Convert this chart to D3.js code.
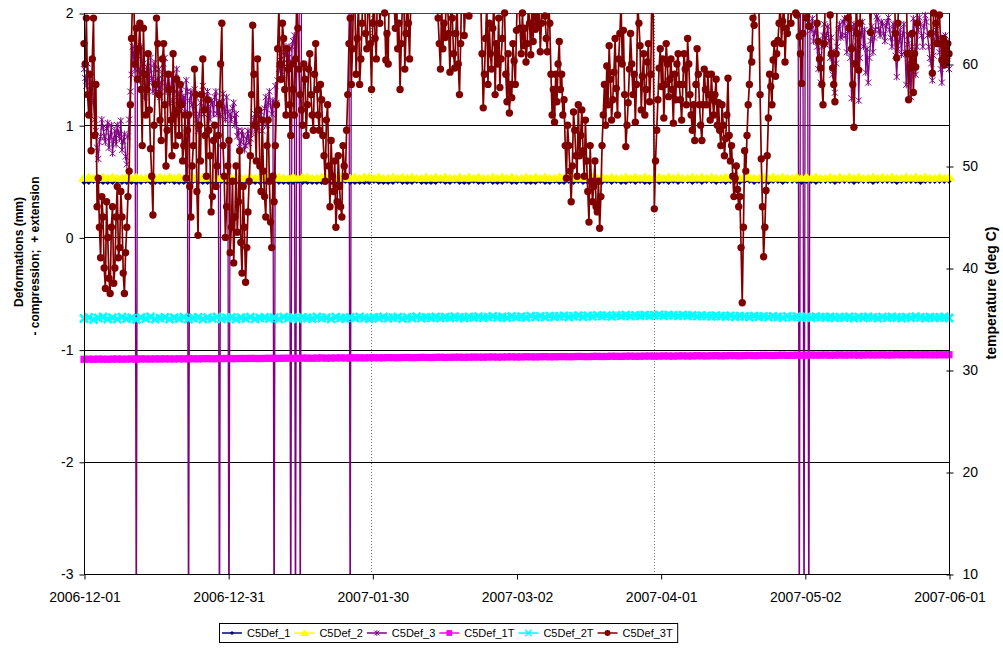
<!DOCTYPE html>
<html><head><meta charset="utf-8">
<script src="https://cdn.jsdelivr.net/npm/d3@7"></script>
<style>
body{margin:0;background:#fff}
svg{display:block}
text{font-family:Arial,"Liberation Sans",sans-serif;fill:#000}
</style>
</head><body>
<svg id="chart" width="1003" height="648"></svg>
<script>
// ---------------- DATA ----------------
const startDate = "2006-12-01";
const endDate = "2007-06-01";
const xTickLabels = ["2006-12-01","2006-12-31","2007-01-30","2007-03-02","2007-04-01","2007-05-02","2007-06-01"];
const leftTicks = [-3,-2,-1,0,1,2];
const rightTicks = [10,20,30,40,50,60];
const seriesNames = ["C5Def_1","C5Def_2","C5Def_3","C5Def_1T","C5Def_2T","C5Def_3T"];
const refLineDays = [60.4, 120]; // dotted vertical lines (days after start)

// daily readings (mm), starting 2006-12-01
const c5def1 = [
0.49,0.49,0.50,0.49,0.49,0.49,0.49,0.50,0.49,0.49,0.49,0.49,0.49,0.50,0.49,0.49,0.49,0.49,0.50,0.49,
0.49,0.49,0.49,0.50,0.49,0.49,0.49,0.49,0.49,0.50,0.49,0.49,0.49,0.49,0.50,0.49,0.49,0.49,0.49,0.49,
0.50,0.49,0.49,0.49,0.49,0.50,0.49,0.49,0.49,0.49,0.49,0.50,0.49,0.49,0.49,0.50,0.49,0.49,0.49,0.49,
0.49,0.50,0.49,0.49,0.49,0.49,0.50,0.49,0.49,0.49,0.50,0.49,0.49,0.49,0.49,0.50,0.49,0.49,0.50,0.49,
0.49,0.49,0.50,0.49,0.49,0.50,0.49,0.49,0.49,0.50,0.49,0.49,0.50,0.49,0.49,0.49,0.50,0.49,0.49,0.50,
0.49,0.49,0.50,0.49,0.50,0.49,0.49,0.50,0.49,0.49,0.50,0.49,0.50,0.49,0.49,0.50,0.49,0.50,0.49,0.49,
0.50,0.49,0.50,0.49,0.50,0.49,0.50,0.50,0.49,0.50,0.49,0.50,0.50,0.49,0.50,0.49,0.50,0.50,0.49,0.50,
0.50,0.49,0.50,0.50,0.49,0.50,0.50,0.49,0.50,0.50,0.50,0.49,0.50,0.50,0.49,0.50,0.50,0.50,0.49,0.50,
0.50,0.50,0.49,0.50,0.50,0.50,0.49,0.50,0.50,0.50,0.50,0.49,0.50,0.50,0.50,0.50,0.49,0.50,0.50,0.50,
0.50,0.50,0.50];
const c5def2 = [
0.53,0.54,0.53,0.53,0.54,0.53,0.54,0.53,0.53,0.54,0.53,0.54,0.53,0.53,0.54,0.53,0.54,0.53,0.54,0.53,
0.54,0.53,0.53,0.54,0.53,0.54,0.53,0.54,0.53,0.53,0.54,0.53,0.54,0.53,0.53,0.54,0.53,0.54,0.53,0.54,
0.53,0.54,0.53,0.53,0.54,0.53,0.54,0.54,0.53,0.53,0.54,0.53,0.54,0.53,0.54,0.53,0.53,0.54,0.53,0.54,
0.54,0.53,0.54,0.53,0.53,0.54,0.53,0.54,0.53,0.54,0.53,0.53,0.54,0.53,0.54,0.53,0.54,0.53,0.53,0.54,
0.53,0.54,0.53,0.54,0.53,0.53,0.54,0.53,0.54,0.53,0.54,0.53,0.53,0.54,0.53,0.54,0.53,0.54,0.53,0.53,
0.54,0.53,0.54,0.53,0.54,0.53,0.53,0.54,0.53,0.54,0.53,0.54,0.53,0.53,0.54,0.53,0.54,0.53,0.54,0.53,
0.53,0.54,0.53,0.54,0.53,0.54,0.53,0.53,0.54,0.53,0.54,0.53,0.54,0.53,0.53,0.54,0.53,0.54,0.53,0.54,
0.54,0.53,0.53,0.54,0.53,0.54,0.53,0.54,0.53,0.53,0.54,0.53,0.54,0.53,0.54,0.53,0.53,0.54,0.53,0.54,
0.53,0.54,0.53,0.54,0.53,0.53,0.54,0.53,0.54,0.53,0.54,0.53,0.53,0.54,0.53,0.54,0.53,0.54,0.53,0.53,
0.54,0.53,0.54];
// quarter-day readings (mm) in three stretches; values of 2.3 are above the scale, -4 are drop-outs below it
const c5def3A = [ // from day 0
1.5,1.42,1.35,1.55,1.45,1.25,1.3,1.38,1.2,1.05,0.95,0.8,0.7,0.85,0.9,1.05,0.98,0.9,0.85,0.97,1.02,0.8,0.9,1.0,0.75,0.87,0.95,0.83,1.0,0.93,0.88,1.04,0.78,0.86,0.92,0.72,0.65,0.9,1.05,1.3,
1.45,1.7,1.6,1.5,-4,1.62,1.5,1.4,1.7,1.48,1.55,1.25,1.35,1.52,1.45,1.38,1.6,1.42,1.3,1.55,1.5,1.3,1.4,1.5,1.25,1.38,1.45,1.55,1.6,1.3,1.35,1.45,1.2,1.32,1.45,1.22,1.3,1.42,1.5,1.28,
1.15,1.28,1.35,1.2,1.25,1.12,1.4,1.3,-4,1.22,1.3,1.18,1.1,1.32,1.25,1.05,0.95,1.1,1.2,1.28,1.35,1.1,1.15,1.25,1.3,1.15,1.05,1.22,1.2,1.1,1.25,1.3,1.1,1.2,-4,1.08,1.2,1.28,1.15,1.05,
1.25,1.12,-4,1.1,1.05,1.15,1.2,1.0,1.1,0.9,0.95,0.8,0.85,0.95,0.9,0.78,0.82,0.88,0.95,0.84,0.88,0.93,1.0,1.05,1.1,0.95,0.98,1.08,1.05,1.12,0.95,1.02,1.15,1.25,1.0,1.2,1.3,1.18,1.1,1.22,
-4,1.35,1.2,1.4,1.5,1.58,1.65,1.45,1.55,1.62,1.7,1.52,1.6,1.68,-4,1.7,1.75,1.8,-4,2.1,2.2,2.3,-4,2.2,2.3];
const c5def3B = [ // from day 55.5
2.3,2.3,-4,2.3,2.3];
const c5def3C = [ // from day 150
2.3,2.3,-4,2.3,2.3,2.3,-4,2.3,2.3,2.3,-4,1.9,1.85,1.95,1.75,1.82,1.9,1.7,1.5,1.62,1.38,1.7,1.8,1.9,1.72,1.8,1.88,1.75,1.6,1.78,1.45,1.65,1.29,1.55,1.7,1.85,1.9,1.78,1.8,1.92,
1.95,1.8,1.65,1.9,1.85,1.6,1.24,1.7,1.9,1.82,1.55,1.75,1.22,1.6,1.8,1.92,1.7,1.85,1.47,1.68,1.38,1.6,1.75,1.88,1.65,1.78,1.85,1.97,1.95,1.85,1.8,1.92,1.9,1.82,1.75,1.88,1.92,1.96,1.85,1.78,
1.7,1.9,1.85,1.62,1.43,1.68,1.75,1.85,1.63,1.8,1.9,1.65,1.36,1.72,1.8,1.55,1.25,1.7,1.95,1.82,1.45,1.7,1.85,1.96,1.9,1.8,1.7,1.88,1.98,1.92,1.8,1.7,1.6,1.55,1.4,1.62,1.75,1.85,1.9,1.78,
1.65,1.5,1.38,1.6,1.55,1.8,1.75,1.62,1.5];
// daily temperatures (deg C)
const c5def1T = [
31.05,31.06,31.05,31.07,31.06,31.05,31.07,31.08,31.06,31.07,31.08,31.07,31.09,31.08,31.07,31.09,31.08,31.10,31.09,31.08,
31.10,31.09,31.11,31.10,31.09,31.11,31.12,31.10,31.11,31.12,31.13,31.11,31.12,31.13,31.12,31.14,31.13,31.12,31.14,31.15,
31.13,31.14,31.15,31.16,31.14,31.15,31.17,31.16,31.15,31.17,31.18,31.16,31.17,31.18,31.19,31.17,31.18,31.20,31.19,31.18,
31.20,31.21,31.19,31.20,31.22,31.21,31.20,31.22,31.23,31.21,31.22,31.24,31.23,31.22,31.24,31.25,31.23,31.24,31.25,31.26,
31.24,31.25,31.27,31.26,31.25,31.27,31.28,31.26,31.27,31.28,31.29,31.27,31.28,31.30,31.29,31.28,31.30,31.31,31.29,31.30,
31.31,31.32,31.30,31.31,31.33,31.32,31.31,31.33,31.34,31.32,31.33,31.35,31.34,31.33,31.35,31.36,31.34,31.35,31.36,31.37,
31.35,31.36,31.38,31.37,31.36,31.38,31.39,31.37,31.38,31.40,31.39,31.38,31.40,31.41,31.39,31.40,31.42,31.41,31.40,31.42,
31.43,31.41,31.42,31.44,31.43,31.42,31.44,31.45,31.43,31.44,31.46,31.44,31.45,31.47,31.45,31.46,31.47,31.45,31.46,31.48,
31.46,31.47,31.48,31.46,31.47,31.49,31.47,31.48,31.49,31.47,31.48,31.50,31.48,31.49,31.50,31.48,31.49,31.50,31.49,31.48,
31.50,31.49,31.50];
const c5def2T = [
35.05,35.15,34.95,35.10,35.20,35.00,35.12,34.98,35.18,35.05,35.10,34.95,35.15,35.05,35.20,35.00,35.08,35.15,34.98,35.12,
35.05,35.18,35.00,35.10,35.15,34.98,35.12,35.05,35.20,35.02,35.10,35.15,35.00,35.12,35.05,35.18,35.02,35.10,35.15,35.05,
35.12,35.00,35.18,35.08,35.12,35.02,35.15,35.10,35.05,35.20,35.08,35.12,35.02,35.18,35.10,35.05,35.15,35.08,35.20,35.10,
35.05,35.15,35.10,35.20,35.08,35.12,35.18,35.05,35.15,35.10,35.22,35.08,35.15,35.12,35.20,35.10,35.18,35.12,35.22,35.15,
35.10,35.20,35.15,35.22,35.12,35.18,35.25,35.15,35.20,35.12,35.25,35.18,35.22,35.15,35.28,35.20,35.25,35.18,35.28,35.22,
35.25,35.30,35.20,35.28,35.32,35.22,35.30,35.25,35.35,35.28,35.32,35.25,35.35,35.30,35.38,35.28,35.35,35.32,35.38,35.30,
35.35,35.40,35.32,35.38,35.35,35.30,35.38,35.32,35.35,35.28,35.33,35.30,35.25,35.32,35.28,35.25,35.30,35.22,35.28,35.25,
35.20,35.28,35.22,35.25,35.18,35.25,35.20,35.15,35.25,35.18,35.22,35.15,35.20,35.12,35.22,35.18,35.15,35.20,35.12,35.18,
35.15,35.20,35.10,35.18,35.12,35.20,35.15,35.08,35.18,35.12,35.20,35.15,35.10,35.18,35.12,35.22,35.15,35.10,35.18,35.12,
35.15,35.20,35.10];
// quarter-day temperatures (deg C) from day 0; values above 65 are off the top of the scale
const c5def3T = [
62,60,64.5,57,55,59,51.5,60.5,64.5,53,58,46,48.8,44,41,47,45,40,38,46.5,43,39,37.5,44,46,38.5,40,45,48,41,42,47.5,45,39.5,37.5,41.5,44,47,49.5,56,
62.5,67,66,60,63.5,58.5,61.5,64,57.5,52,63.5,59,55,57.5,61,55.5,51.7,49,45.2,54,58,64.5,62,57,54.5,52.5,60.5,62,56,50,53.5,59,57.5,54.5,51,61,55,52,58.5,55.5,
53,58,56,50.5,52,55,48.8,53.5,55,48,45,50,52,59.5,57,47.5,43.2,54,50.5,57,60.5,55.5,53,49,56.5,53.5,51,45.5,47,52.5,54,48,50,53,56,60,64,52,49,43,
46,50,52.5,41.5,44,48.5,40.5,45,50,43.5,46.5,51.5,42.5,39.5,48,44,38.6,42,45.5,48.5,51,57,63.8,59,54,50.5,60.5,55.5,50,47.5,54.5,49.5,47,45,52,54.5,48.5,44.5,42,49,
46.5,52,56,61.5,65.5,60,58.5,64,62.5,57.5,55,61.5,59.5,56,53,60,57.5,55,60.5,65.8,63.5,59.5,57,55.5,54,60,58.5,53,56,59.5,61,57,55,53.5,59,62,57.5,55,53.5,58,
56.5,53,51,48.5,54.5,56,50,46,52.5,49,47.5,50.5,44,46.5,51,48,46,45,52,50,49,53.5,57,62,64.5,58,61.5,68,66,59,62.5,66,58,60.5,64,69,67,63,61.5,66,
66,62,57.5,64,67,62.5,60.5,68,68,64,66,70,68,65,60.4,63,60,69,67,71,68,66,63.5,67,61.5,64,57.5,62,66,69,59.5,63,67,64,60.5,66,68,71,70,68,
70,71,68,70,72,68,69,72,71,69,67,71,70,68,68,70,71,66,64.5,62,59.5,66,61.5,64,62.6,68,66,63,59.2,67,64.5,61,59.6,63,66,60,57,62,68,70,
62.8,65.5,67,69,64.7,67,68,70,66,68,69,71,67,69,66,61,55.7,59,62.5,66,58,64,61,59.5,63.5,66,57,62,60,64.5,57.7,60.5,62.5,67,65,59,56.3,61,55.2,58,
56.7,62,60.3,58,63.3,68,66,63.5,61,65,61.8,63.5,60.2,62,66,64,60.9,66,62.2,68,63.4,66,63.9,67,61.2,64,67,69,64.7,62.5,61.2,66,64,59,55,57.5,54.3,59,56.3,60,
62.2,57.5,59,55,56.5,52,48.8,54,52,49.5,46.5,50,55.3,53.5,51,49,56,51,53,55.5,51.5,49,54.5,50.5,47.5,44.5,52,48.5,46.5,48,50.5,46,45.5,48.5,43.9,47,52,55,58,54,
59.8,56,61.8,58.5,54.5,56.5,59.2,62.5,57.6,55,60.5,63,66,60,63.3,57,51.9,54,56.2,59.5,63,60,57,59,54.3,58,66,64,61.8,55.5,58.8,61,55,57.5,60.2,62,56.3,59,68,66,
45.8,50.5,53.5,56.5,59.6,61.5,57.8,60.5,54.7,58,62,60,56.8,58.5,60.5,57.5,54.2,59,56.5,60,61,58,56.5,54.5,58,61,59.5,56,62.5,60,57,55,53.5,56,52.5,58,61.5,59,56,54,
52.5,56,59.5,57.5,56,59,57,54.5,59,56.5,55,57,58.5,54,56.2,53.5,52,56,54,51,52.7,55,58.6,53,50.5,52,49,47,48.8,50,47.7,46,47,42,36.6,44,51.5,49.5,53,56,
58,61.5,60.2,64.5,63.8,66,65.5,67,66,57,50.7,46,41.1,44,47.6,51,54.7,59,57.8,56,60.4,62,58.8,61,62.3,64,66,62,64.2,66,60.2,63.5,63,66,67,64,68,66,67,65,
64.8,66,62.7,61,58.1,63,67,66,64.5,67,63.7,66,68,70,69,68,67,64,62.2,60.5,59.6,58,56,62,67,70,69,66,64.8,61,59.6,58,56.3,61,67,69,70,71,68,69,
70,68,67,64.5,63.5,66,61.5,58,53.8,60,66,63,59.4,64,67,69,68,70,67,68,69,66,63.1,67,68,69,70,72,71,69,70,71,72,70,69,71,71,68,70,69,
68,70,67,63,60.6,64,67,70,69,71,70,69,68,61,56.5,61,59.6,63,57.2,61,59.7,64,68,70,70,68,69,70,71,69,69,70,68,63,59.1,65,67,64,62,66,
64.8,62,60.4,62.5,59.9,61.5,60.3,62,61];

// ---------------- CHART ----------------
const W = 1003, H = 648;
const P = {left:84, right:949, top:13, bottom:574};
const DAY = 864e5;
const t0 = new Date(startDate + "T00:00:00Z"), t1 = new Date(endDate + "T00:00:00Z");
const dayToDate = d => new Date(t0.getTime() + d * DAY);

const x = d3.scaleUtc().domain([t0, t1]).range([P.left, P.right]);
const yL = d3.scaleLinear().domain([-3, 2]).range([P.bottom, P.top]);
const yR = d3.scaleLinear().domain([10, 65]).range([P.bottom, P.top]);

const svg = d3.select("#chart");
svg.append("rect").attr("width", W).attr("height", H).attr("fill", "#fff");
svg.append("defs").append("clipPath").attr("id", "plotClip")
  .append("rect").attr("x", P.left).attr("y", P.top)
  .attr("width", P.right - P.left).attr("height", P.bottom - P.top);

const crisp = v => Math.round(v) + 0.5;
const FONT = "Arial, 'Liberation Sans', sans-serif";

// horizontal gridlines
svg.append("g").selectAll("line").data(leftTicks.filter(d => d > -3)).join("line")
  .attr("x1", P.left).attr("x2", P.right)
  .attr("y1", d => crisp(yL(d))).attr("y2", d => crisp(yL(d)))
  .attr("stroke", d => d === 2 ? "#444" : "#000").attr("stroke-width", 1);

// dotted vertical reference lines
svg.append("g").selectAll("line").data(refLineDays).join("line")
  .attr("x1", d => crisp(x(dayToDate(d)))).attr("x2", d => crisp(x(dayToDate(d))))
  .attr("y1", P.top).attr("y2", P.bottom)
  .attr("stroke", "#777").attr("stroke-width", 1).attr("stroke-dasharray", "1,2");

// marker shapes: plot version (k=1) and smaller legend version
const markerDefs = {
  diamond: (g, k) => g.append("path").attr("d", `M0,${-2.6*k}L${2.6*k},0L0,${2.6*k}L${-2.6*k},0Z`).attr("fill", "#000080"),
  triangle: (g, k) => g.append("path").attr("d", `M0,${-3.8*k}L${5.5*k},${3.4*k}L${-5.5*k},${3.4*k}Z`).attr("fill", "#FFFF00").attr("stroke", "#FFFF00").attr("stroke-width", 0.8),
  star: (g, k) => g.append("path").attr("d", `M${-3*k},${-3*k}L${3*k},${3*k}M${-3*k},${3*k}L${3*k},${-3*k}M0,${-3.5*k}L0,${3.5*k}`).attr("stroke", "#800080").attr("stroke-width", 1).attr("fill", "none"),
  square: (g, k) => g.append("rect").attr("x", -3.6*k).attr("y", -3.6*k).attr("width", 7.2*k).attr("height", 7.2*k).attr("fill", "#FF00FF"),
  cross: (g, k) => g.append("path").attr("d", `M${-4*k},${-4*k}L${4*k},${4*k}M${-4*k},${4*k}L${4*k},${-4*k}`).attr("stroke", "#00FFFF").attr("stroke-width", k === 1 ? 2.6 : 1.4).attr("fill", "none"),
  circle: (g, k) => g.append("circle").attr("r", 3.7*k).attr("fill", "#800000")
};

const series = [
  {name: seriesNames[2], parts: [{start: 0, values: c5def3A}, {start: 55.5, values: c5def3B}, {start: 150, values: c5def3C}], step: 0.25, y: yL, color: "#800080", width: 1.3, marker: "star"},
  {name: seriesNames[0], parts: [{start: 0, values: c5def1}], step: 1, y: yL, color: "#000080", width: 1.5, marker: "diamond"},
  {name: seriesNames[1], parts: [{start: 0, values: c5def2}], step: 1, y: yL, color: "#FFFF00", width: 1, marker: "triangle"},
  {name: seriesNames[3], parts: [{start: 0, values: c5def1T}], step: 1, y: yR, color: "#FF00FF", width: 1, marker: "square"},
  {name: seriesNames[4], parts: [{start: 0, values: c5def2T}], step: 1, y: yR, color: "#00FFFF", width: 1, marker: "cross"},
  {name: seriesNames[5], parts: [{start: 0, values: c5def3T}], step: 0.25, y: yR, color: "#800000", width: 1.7, marker: "circle"}
];

series.forEach(s => {
  const g = svg.append("g");
  const line = d3.line().x(d => x(d.t)).y(d => s.y(d.v));
  const [lo, hi] = s.y.domain();
  s.parts.forEach(part => {
    const pts = part.values.map((v, i) => ({t: dayToDate(part.start + i * s.step), v}));
    g.append("path").datum(pts).attr("d", line)
      .attr("fill", "none").attr("stroke", s.color).attr("stroke-width", s.width)
      .attr("stroke-linejoin", "round").attr("clip-path", "url(#plotClip)");
    const vis = pts.filter(d => d.v >= lo && d.v <= hi);
    g.append("g").selectAll("g").data(vis).join("g")
      .attr("transform", d => `translate(${x(d.t)},${s.y(d.v)})`)
      .each(function () { markerDefs[s.marker](d3.select(this), 1); });
  });
});

// axes lines (box)
svg.append("line").attr("x1", crisp(P.left)).attr("x2", crisp(P.left)).attr("y1", P.top).attr("y2", P.bottom + 0.5).attr("stroke", "#000");
svg.append("line").attr("x1", crisp(P.right)).attr("x2", crisp(P.right)).attr("y1", P.top).attr("y2", P.bottom + 0.5).attr("stroke", "#000");
svg.append("line").attr("x1", P.left).attr("x2", P.right + 1).attr("y1", crisp(P.bottom)).attr("y2", crisp(P.bottom)).attr("stroke", "#000");

// left axis
const axL = svg.append("g").attr("transform", `translate(${crisp(P.left)},0.5)`)
  .call(d3.axisLeft(yL).tickValues(leftTicks).tickFormat(d => String(d)).tickSizeInner(5).tickSizeOuter(0).tickPadding(6));
axL.select(".domain").remove();
axL.selectAll(".tick line").attr("stroke", "#000");
axL.selectAll("text").attr("font-size", 14).attr("font-family", FONT);

// right axis
const axR = svg.append("g").attr("transform", `translate(${crisp(P.right)},0.5)`)
  .call(d3.axisRight(yR).tickValues(rightTicks).tickFormat(d => String(d)).tickSizeInner(4).tickSizeOuter(0).tickPadding(9));
axR.select(".domain").remove();
axR.selectAll(".tick line").attr("x1", -3).attr("x2", 4).attr("stroke", "#000");
axR.selectAll("text").attr("font-size", 14).attr("font-family", FONT);

// bottom axis
const tickDates = xTickLabels.map((_, i) => new Date(t0.getTime() + i * (t1 - t0) / (xTickLabels.length - 1)));
const axB = svg.append("g").attr("transform", `translate(0.5,${crisp(P.bottom)})`)
  .call(d3.axisBottom(x).tickValues(tickDates).tickFormat((d, i) => xTickLabels[i]).tickSizeInner(5).tickSizeOuter(0).tickPadding(13));
axB.select(".domain").remove();
axB.selectAll(".tick line").attr("stroke", "#000");
axB.selectAll("text").attr("font-size", 14).attr("font-family", FONT);

// axis titles
svg.append("text").attr("transform", "translate(19,252) rotate(-90)")
  .attr("text-anchor", "middle").attr("dy", "0.35em")
  .attr("font-size", 12).attr("font-weight", "bold").attr("font-family", FONT)
  .text("Deformations (mm)");
svg.append("text").attr("transform", "translate(35,256) rotate(-90)")
  .attr("text-anchor", "middle").attr("dy", "0.35em")
  .attr("font-size", 12).attr("font-weight", "bold").attr("font-family", FONT)
  .style("white-space", "pre")
  .text("- compression;  + extension");
svg.append("text").attr("transform", "translate(991,293) rotate(-90)")
  .attr("text-anchor", "middle").attr("dy", "0.35em")
  .attr("font-size", 14).attr("font-weight", "bold").attr("font-family", FONT)
  .text("temperature (deg C)");

// legend
const legendOrder = [
  {name: seriesNames[0], color: "#000080", marker: "diamond"},
  {name: seriesNames[1], color: "#FFFF00", marker: "triangle"},
  {name: seriesNames[2], color: "#800080", marker: "star"},
  {name: seriesNames[3], color: "#FF00FF", marker: "square"},
  {name: seriesNames[4], color: "#00FFFF", marker: "cross"},
  {name: seriesNames[5], color: "#800000", marker: "circle"}
];
const lg = svg.append("g");
const lgBox = lg.append("rect").attr("y", 623.5).attr("height", 19).attr("fill", "#fff").attr("stroke", "#000").attr("stroke-width", 1);
let lx = 222;
const ly = 633;
legendOrder.forEach(item => {
  lg.append("line").attr("x1", lx).attr("x2", lx + 20).attr("y1", ly).attr("y2", ly).attr("stroke", item.color).attr("stroke-width", 1.5);
  const m = lg.append("g").attr("transform", `translate(${lx + 10},${ly})`);
  markerDefs[item.marker](m, 0.8);
  const t = lg.append("text").attr("x", lx + 25).attr("y", ly).attr("dy", "0.35em")
    .attr("font-size", 11).attr("font-family", FONT).text(item.name);
  lx = lx + 25 + t.node().getComputedTextLength() + 4;
});
lgBox.attr("x", 219.5).attr("width", lx - 219.5 + 1);
</script>
</body></html>
